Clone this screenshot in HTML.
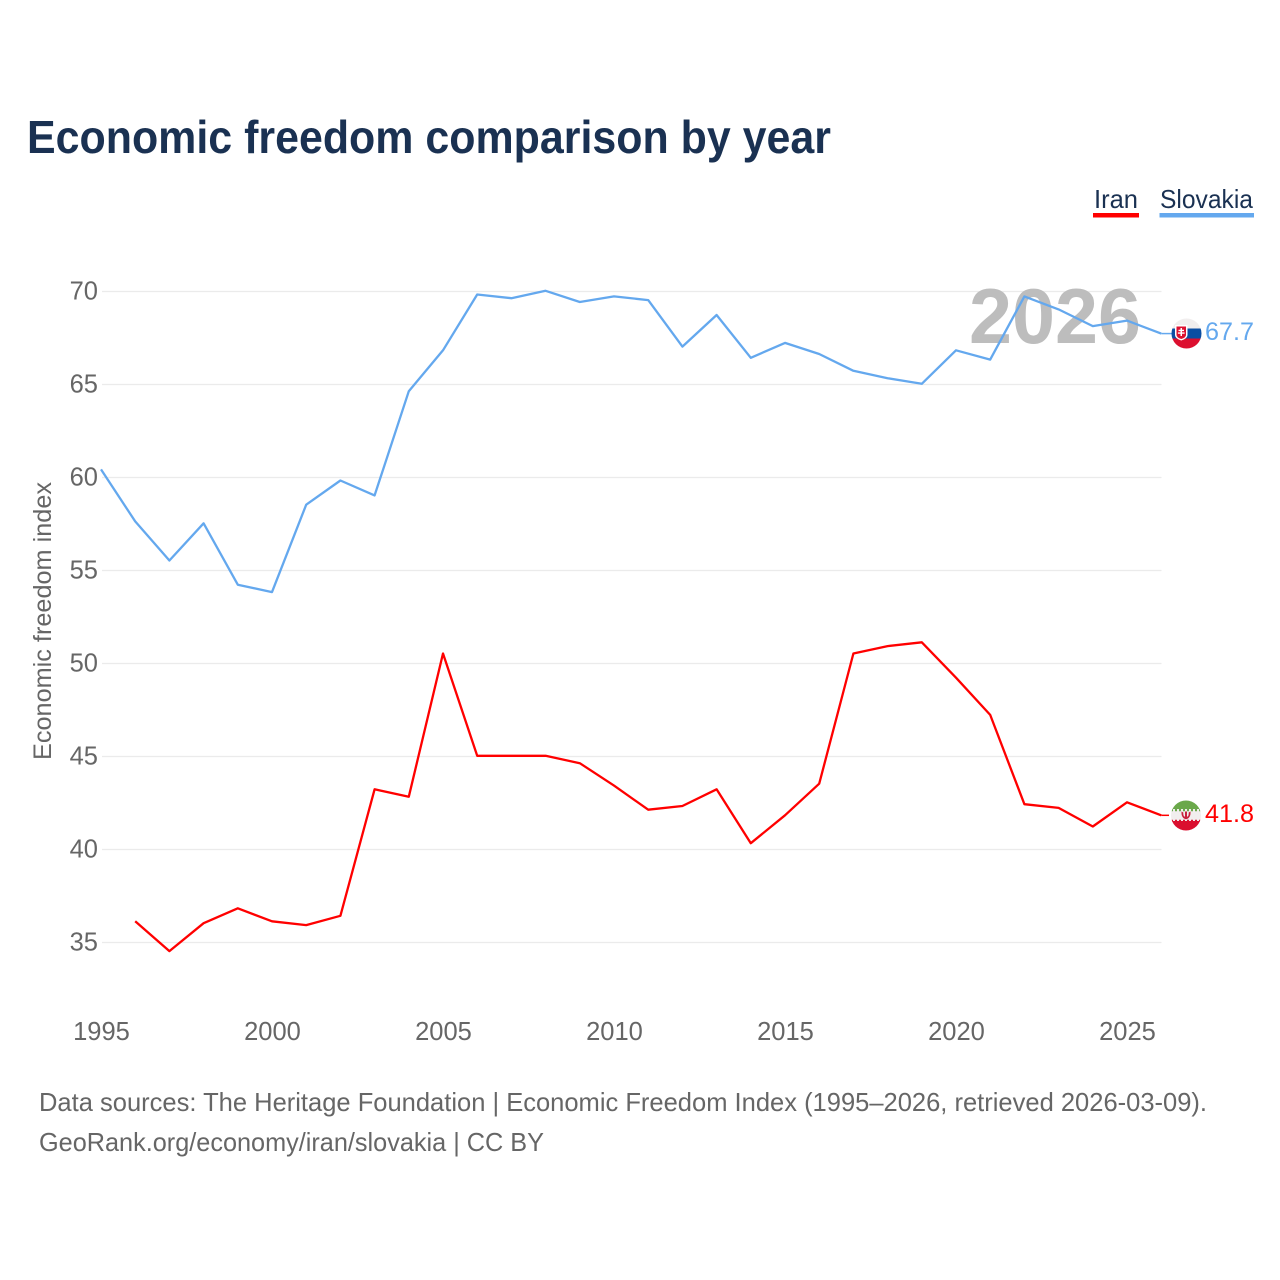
<!DOCTYPE html>
<html lang="en">
<head>
<meta charset="utf-8">
<title>Economic freedom comparison by year</title>
<style>
html,body{margin:0;padding:0;background:#fff;width:1280px;height:1280px;overflow:hidden}
svg{display:block}
text{font-family:"Liberation Sans",sans-serif}
</style>
</head>
<body>
<svg id="chart" xmlns="http://www.w3.org/2000/svg" width="1280" height="1280" viewBox="0 0 1280 1280">
  <defs>
    <clipPath id="clip-sk"><circle cx="1186.500" cy="333.500" r="15"/></clipPath>
    <clipPath id="clip-ir"><circle cx="1186" cy="815.500" r="15"/></clipPath>
  </defs>
  <rect x="0" y="0" width="1280" height="1280" fill="#fff"/>
  <text x="27" y="153" font-size="46" font-weight="700" fill="#1a3152" textLength="804" lengthAdjust="spacingAndGlyphs">Economic freedom comparison by year</text>

  <g>
    <g>
      <text x="1094" y="208" font-size="26" fill="#1a3152" textLength="44" lengthAdjust="spacingAndGlyphs">Iran</text>
      <rect x="1093" y="213" width="46" height="4.500" fill="#ff0000"/>
    </g>
    <g>
      <text x="1160" y="208" font-size="26" fill="#1a3152" textLength="93" lengthAdjust="spacingAndGlyphs">Slovakia</text>
      <rect x="1159.500" y="213" width="94.500" height="4.500" fill="#64a8ee"/>
    </g>
  </g>

  <g id="grid"></g>
  <g id="yticks"></g>
  <g id="xticks"></g>
  <text transform="translate(51,760) rotate(-90)" x="0" y="0" font-size="25" fill="#666" textLength="278" lengthAdjust="spacingAndGlyphs">Economic freedom index</text>

  <text x="969" y="343" font-size="78" font-weight="700" fill="#bdbdbd" textLength="172" lengthAdjust="spacingAndGlyphs">2026</text>

  <g id="series" transform="translate(-1,-0.700)"></g>

  <g clip-path="url(#clip-sk)">
    <rect x="1171" y="318" width="31" height="10.500" fill="#f1eeee"/>
    <rect x="1171" y="328.500" width="31" height="10" fill="#0b4ea2"/>
    <rect x="1171" y="338.500" width="31" height="11" fill="#dc0f2f"/>
    <path d="M1175 325h12.500v10q0 3.500-6.250 5.500q-6.250-2-6.250-5.500z" fill="#fff"/>
    <path d="M1176.500 326.500h9.500v8.500q0 2.500-4.750 4q-4.750-1.500-4.750-4z" fill="#dc0f2f"/>
    <path d="M1180.500 328h1.500v1.800h2v1.300h-2v1.300h2.600v1.300h-2.600v2.300h-1.500v-2.300h-2.600v-1.300h2.600v-1.300h-2v-1.300h2z" fill="#fff"/>
  </g>
  <g clip-path="url(#clip-ir)">
    <rect x="1171" y="800" width="30" height="10" fill="#6aa84a"/>
    <rect x="1171" y="809" width="30" height="12" fill="#f1eeee"/>
    <rect x="1171" y="821" width="30" height="10" fill="#da0f2f"/>
    <line x1="1171" x2="1201" y1="810" y2="810" stroke="#6aa84a" stroke-width="2.500" stroke-dasharray="2 2"/>
    <line x1="1171" x2="1201" y1="821" y2="821" stroke="#da0f2f" stroke-width="2.500" stroke-dasharray="2 2"/>
    <path d="M1181.500 811.500q-.5 6.500 4.500 7.800q5-1.300 4.500-7.800l-1.800 1q.3 3.800-1.700 4.300v-5.300h-2v5.300q-2-.5-1.700-4.300z" fill="#c8223c"/>
  </g>

  <text id="value-slovakia" x="1205" y="340" font-size="25" fill="#64a8ee" textLength="49" lengthAdjust="spacingAndGlyphs"></text>
  <text id="value-iran" x="1205" y="822" font-size="25" fill="#ff0000" textLength="49" lengthAdjust="spacingAndGlyphs"></text>

  <text x="39" y="1111" font-size="26" fill="#666" textLength="1168" lengthAdjust="spacingAndGlyphs">Data sources: The Heritage Foundation | Economic Freedom Index (1995–2026, retrieved 2026-03-09).</text>
  <text x="39" y="1151" font-size="26" fill="#666" textLength="505" lengthAdjust="spacingAndGlyphs">GeoRank.org/economy/iran/slovakia | CC BY</text>
</svg>
<script>
const years = [1995,1996,1997,1998,1999,2000,2001,2002,2003,2004,2005,2006,2007,2008,2009,2010,2011,2012,2013,2014,2015,2016,2017,2018,2019,2020,2021,2022,2023,2024,2025,2026];
const slovakia = [60.4,57.6,55.5,57.5,54.2,53.8,58.5,59.8,59.0,64.6,66.8,69.8,69.6,70.0,69.4,69.7,69.5,67.0,68.7,66.4,67.2,66.6,65.7,65.3,65.0,66.8,66.3,69.7,69.0,68.1,68.4,67.7];
const iran = [null,36.1,34.5,36.0,36.8,36.1,35.9,36.4,43.2,42.8,50.5,45.0,45.0,45.0,44.6,43.4,42.1,42.3,43.2,40.3,41.8,43.5,50.5,50.9,51.1,49.2,47.2,42.4,42.2,41.2,42.5,41.8];
const yTickValues = [35,40,45,50,55,60,65,70];
const xTickValues = [1995,2000,2005,2010,2015,2020,2025];

const NS = 'http://www.w3.org/2000/svg';
function xScale(year){ return 102 + (year - 1995) * 34.2; }
function yScale(v){ return 291.5 + (70 - v) * 18.6; }

const grid = document.getElementById('grid');
const yticks = document.getElementById('yticks');
yTickValues.forEach(function(v){
  const line = document.createElementNS(NS,'line');
  
  
  line.setAttribute('x1', 102);
  line.setAttribute('x2', 1161.5);
  line.setAttribute('y1', yScale(v));
  line.setAttribute('y2', yScale(v));
  line.setAttribute('stroke', '#ebebeb');
  line.setAttribute('stroke-width', '1.2');
  grid.appendChild(line);
  const t = document.createElementNS(NS,'text');
  
  
  t.setAttribute('x', 98);
  t.setAttribute('y', yScale(v) + 8);
  t.setAttribute('text-anchor', 'end');
  t.setAttribute('font-size', '25.5');
  t.setAttribute('fill', '#666');
  t.textContent = v;
  yticks.appendChild(t);
});

const xticks = document.getElementById('xticks');
xTickValues.forEach(function(y){
  const t = document.createElementNS(NS,'text');
  
  
  t.setAttribute('x', xScale(y) - 0.5);
  t.setAttribute('y', 1040);
  t.setAttribute('text-anchor', 'middle');
  t.setAttribute('font-size', '25.5');
  t.setAttribute('fill', '#666');
  t.textContent = y;
  xticks.appendChild(t);
});

function linePath(values){
  let d = '';
  values.forEach(function(v,i){
    if (v === null) return;
    d += (d ? 'L' : 'M') + xScale(years[i]).toFixed(1) + ' ' + yScale(v).toFixed(1);
  });
  return d;
}

const series = document.getElementById('series');
const iranLine = document.createElementNS(NS,'path');


iranLine.setAttribute('d', linePath(iran));
iranLine.setAttribute('fill', 'none');
iranLine.setAttribute('stroke', '#ff0000');
iranLine.setAttribute('stroke-width', '2.3');
iranLine.setAttribute('stroke-linejoin', 'round');
series.appendChild(iranLine);

const skLine = document.createElementNS(NS,'path');


skLine.setAttribute('d', linePath(slovakia));
skLine.setAttribute('fill', 'none');
skLine.setAttribute('stroke', '#64a8ee');
skLine.setAttribute('stroke-width', '2.3');
skLine.setAttribute('stroke-linejoin', 'round');
series.appendChild(skLine);

const lastSk = slovakia[slovakia.length - 1];
const lastIr = iran[iran.length - 1];
const skConn = document.createElementNS(NS,'line');


skConn.setAttribute('x1', xScale(2026));
skConn.setAttribute('x2', 1173);
skConn.setAttribute('y1', yScale(lastSk));
skConn.setAttribute('y2', yScale(lastSk));
skConn.setAttribute('stroke', '#64a8ee');
skConn.setAttribute('stroke-width', '1.5');
series.appendChild(skConn);
const irConn = document.createElementNS(NS,'line');


irConn.setAttribute('x1', xScale(2026));
irConn.setAttribute('x2', 1170);
irConn.setAttribute('y1', yScale(lastIr));
irConn.setAttribute('y2', yScale(lastIr));
irConn.setAttribute('stroke', '#ff0000');
irConn.setAttribute('stroke-width', '1.5');
series.appendChild(irConn);

document.getElementById('value-slovakia').textContent = lastSk.toFixed(1);
document.getElementById('value-iran').textContent = lastIr.toFixed(1);
</script>
</body>
</html>
